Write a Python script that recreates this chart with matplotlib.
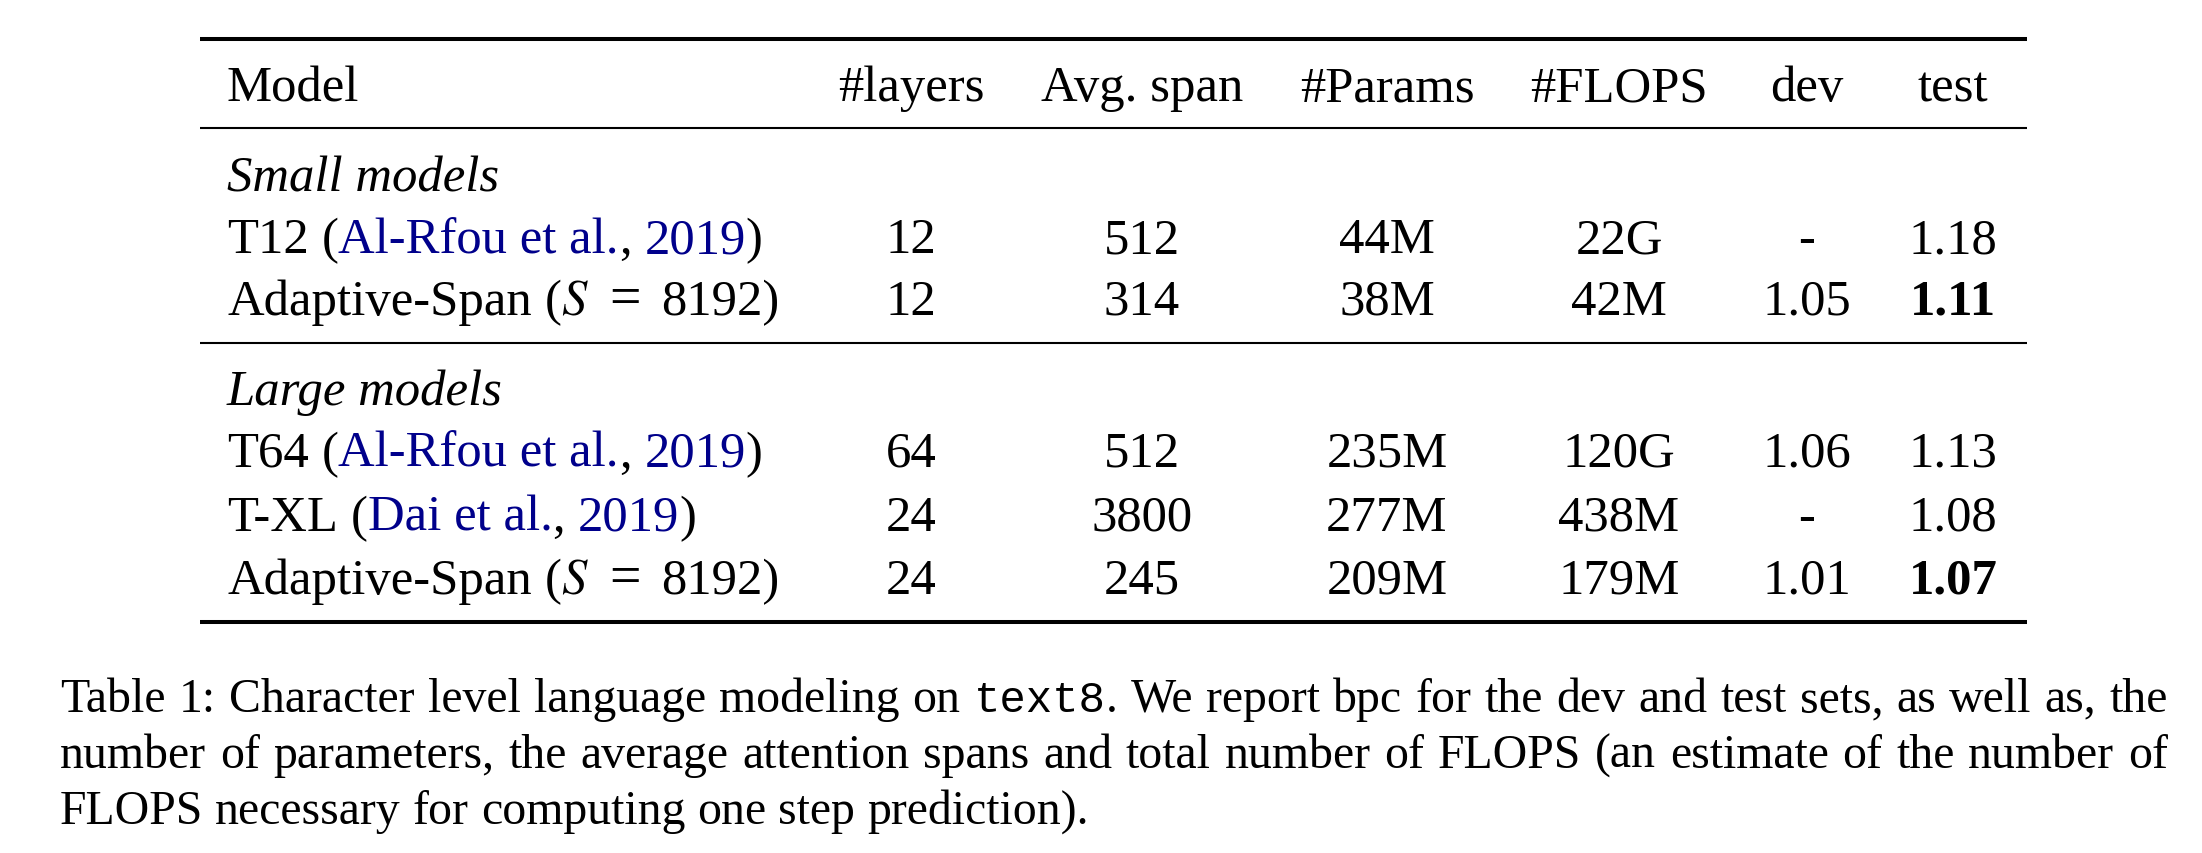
import matplotlib
matplotlib.use('Agg')
import matplotlib.pyplot as plt

plt.rcParams['font.family'] = ['Liberation Serif', 'DejaVu Serif']
plt.rcParams['mathtext.fontset'] = 'stix'

# table data
columns = ['Model', '#layers', 'Avg. span', '#Params', '#FLOPS', 'dev', 'test']
group_labels = ['Small models', 'Large models']
model_base = [['T12', 'Adaptive-Span'], ['T64', 'T-XL', 'Adaptive-Span']]
model_cite = [[('Al-Rfou et al.', '2019'), None],
              [('Al-Rfou et al.', '2019'), ('Dai et al.', '2019'), None]]
model_S = [[None, 8192], [None, None, 8192]]
layers = [['12', '12'], ['64', '24', '24']]
avg_span = [['512', '314'], ['512', '3800', '245']]
params = [['44M', '38M'], ['235M', '277M', '209M']]
flops = [['22G', '42M'], ['120G', '438M', '179M']]
dev = [['-', '1.05'], ['1.06', '-', '1.01']]
test = [['1.18', '1.11'], ['1.13', '1.08', '1.07']]
test_best = [[False, True], [False, False, True]]

caption_lines = [
    ['Table', '1:', 'Character', 'level', 'language', 'modeling', 'on', 'text8.',
     'We', 'report', 'bpc', 'for', 'the', 'dev', 'and', 'test', 'sets,', 'as', 'well', 'as,', 'the'],
    ['number', 'of', 'parameters,', 'the', 'average', 'attention', 'spans', 'and', 'total',
     'number', 'of', 'FLOPS', '(an', 'estimate', 'of', 'the', 'number', 'of'],
    ['FLOPS', 'necessary', 'for', 'computing', 'one', 'step', 'prediction).'],
]

W, H = 2202, 854
fig = plt.figure(figsize=(W / 100, H / 100), dpi=100)
ax = fig.add_axes([0, 0, 1, 1])
ax.set_xlim(0, W)
ax.set_ylim(H, 0)
ax.axis('off')
renderer = fig.canvas.get_renderer()

FS = 36.5
CFS = 34.4
BLUE = '#00008B'
col_x = [227, 911, 1142, 1387, 1619, 1807, 1953]
rule_x0, rule_x1 = 200, 2027


def width(s, **kw):
    t = ax.text(0, 0, s, **kw)
    w = t.get_window_extent(renderer).width
    t.remove()
    return w


def space(**kw):
    return width('a a', **kw) - width('aa', **kw)


def draw_segs(x, y, segs, size):
    # segs: list of (text, kwargs); None text means a space (kw 'scale' widens it)
    for s, kw in segs:
        kw = dict(kw)
        if s is None:
            x += space(fontsize=size) * kw.get('scale', 1.0)
            continue
        kw.setdefault('fontsize', size)
        t = ax.text(x, y, s, va='baseline', ha='left', **kw)
        x += t.get_window_extent(renderer).width


# rules
ax.plot([rule_x0, rule_x1], [40, 40], color='black', lw=2.9, solid_capstyle='butt')
ax.plot([rule_x0, rule_x1], [129, 129], color='black', lw=1.5, solid_capstyle='butt')
ax.plot([rule_x0, rule_x1], [344, 344], color='black', lw=1.5, solid_capstyle='butt')
ax.plot([rule_x0, rule_x1], [623, 623], color='black', lw=2.9, solid_capstyle='butt')

# header
ax.text(col_x[0], 101, columns[0], fontsize=FS, va='baseline', ha='left')
for c, x in zip(columns[1:], col_x[1:]):
    ax.text(x, 101, c, fontsize=FS, va='baseline', ha='center')

group_y = [191, 405]
row_y = [[253, 315], [467, 531, 594]]

for g in range(len(group_labels)):
    ax.text(col_x[0], group_y[g], group_labels[g], fontsize=FS, style='italic',
            va='baseline', ha='left')
    for i, y in enumerate(row_y[g]):
        segs = [(model_base[g][i], {}), (None, {}), ('(', {})]
        if model_cite[g][i] is not None:
            who, yr = model_cite[g][i]
            segs += [(who, {'color': BLUE}), (',', {}), (None, {}),
                     (yr, {'color': BLUE}), (')', {})]
        else:
            segs += [('$S$', {}), (None, {'scale': 1.6}), ('=', {'fontsize': FS * 1.1}),
                     (None, {'scale': 1.6}), ('%d)' % model_S[g][i], {})]
        draw_segs(col_x[0], y, segs, FS)
        vals = [layers[g][i], avg_span[g][i], params[g][i], flops[g][i], dev[g][i]]
        for v, x in zip(vals, col_x[1:6]):
            ax.text(x, y, v, fontsize=FS, va='baseline', ha='center')
        ax.text(col_x[6], y, test[g][i], fontsize=FS, va='baseline', ha='center',
                fontweight='bold' if test_best[g][i] else 'normal')

# caption, justified
cap_x0, cap_x1 = 60, 2168
cap_y = [712, 768, 824]
mono = {'family': ['Liberation Mono', 'DejaVu Sans Mono'], 'fontsize': CFS * 0.92}
for li, words in enumerate(caption_lines):
    items = []
    for w in words:
        if w == 'text8.':
            items.append([('text8', mono), ('.', {})])
        else:
            items.append([(w, {})])
    widths = []
    for it in items:
        tot = 0
        for s, kw in it:
            kk = dict(kw)
            kk.setdefault('fontsize', CFS)
            tot += width(s, **kk)
        widths.append(tot)
    if li < len(caption_lines) - 1:
        gap = (cap_x1 - cap_x0 - sum(widths)) / (len(items) - 1)
    else:
        gap = space(fontsize=CFS)
    x = cap_x0
    for it, wd in zip(items, widths):
        draw_segs(x, cap_y[li], it, CFS)
        x += wd + gap

fig.savefig('out.png', dpi=100)
